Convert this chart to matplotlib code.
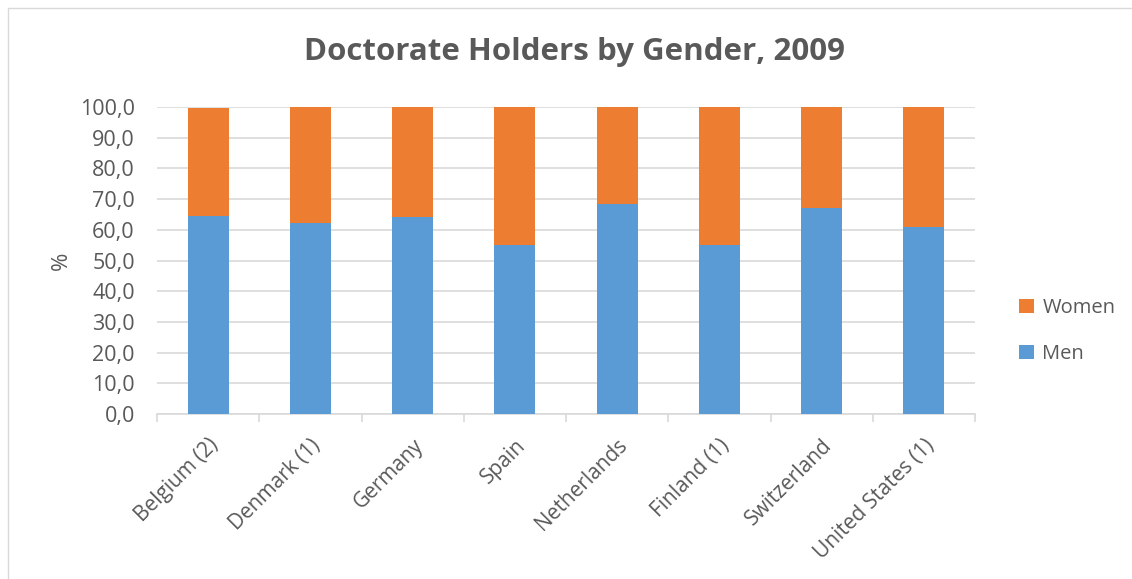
import numpy as np
import matplotlib
matplotlib.use("Agg")
import matplotlib.pyplot as plt
from matplotlib.patches import Rectangle

countries = ['Belgium (2)', 'Denmark (1)', 'Germany', 'Spain', 'Netherlands',
             'Finland (1)', 'Switzerland', 'United States (1)']
men = [64.6, 62.1, 64.3, 55.2, 68.5, 55.0, 67.2, 60.9]
women = [35.1, 37.9, 35.7, 44.8, 31.5, 45.0, 32.8, 39.1]

BLUE = '#5b9bd5'
ORANGE = '#ed7d31'
TXT = '#595959'
GRID = '#d9d9d9'

plt.rcParams['font.family'] = ['Open Sans', 'DejaVu Sans']

fig = plt.figure(figsize=(11.32, 5.79), dpi=100)
ax = fig.add_axes([157 / 1132, 1 - 414 / 579, (975 - 157) / 1132, (414 - 107) / 579])

# chart border like the spreadsheet frame
fig.patches.append(Rectangle((8 / 1132, -0.1), 1.2, 1 - 8 / 579 + 0.1,
                             transform=fig.transFigure, fill=False,
                             edgecolor='#d9d9d9', linewidth=1))

x = np.arange(len(countries))
ax.bar(x, men, width=0.4, color=BLUE, label='Men', zorder=3)
ax.bar(x, women, width=0.4, bottom=men, color=ORANGE, label='Women', zorder=3)

ax.set_xlim(-0.5, len(countries) - 0.5)
ax.set_ylim(0, 100)
ax.set_yticks(np.arange(0, 101, 10))
ax.set_yticklabels([f'{v:.1f}'.replace('.', ',') for v in np.arange(0, 101, 10)])
ax.yaxis.grid(True, color=GRID, linewidth=1.2, zorder=0)
ax.tick_params(axis='y', length=0, labelsize=15.5, colors=TXT, pad=16)

ax.set_xticks(x)
ax.set_xticklabels(countries, rotation=45, ha='right', rotation_mode='anchor',
                   fontsize=15, color=TXT)
ax.tick_params(axis='x', which='major', length=0, pad=15)
ax.set_xticks(np.arange(-0.5, len(countries)), minor=True)
ax.tick_params(axis='x', which='minor', length=6, color=GRID, width=1.2)

for s in ['top', 'right', 'left']:
    ax.spines[s].set_visible(False)
ax.spines['bottom'].set_color(GRID)
ax.spines['bottom'].set_linewidth(1.2)

ax.set_ylabel('%', fontsize=16, color=TXT, labelpad=6)

fig.text(575 / 1132, 1 - 52 / 579, 'Doctorate Holders by Gender, 2009',
         ha='center', va='center', fontsize=22.5, fontweight='bold', color=TXT)

handles, labels = ax.get_legend_handles_labels()
leg = fig.legend(handles[::-1], labels[::-1], loc='center left',
                 bbox_to_anchor=(1001 / 1132, 1 - 331 / 579), frameon=False,
                 fontsize=14.5, handlelength=0.75, handleheight=0.75,
                 handletextpad=0.4, labelspacing=1.3, labelcolor=TXT)

fig.savefig('out.png', dpi=100, facecolor='white')
